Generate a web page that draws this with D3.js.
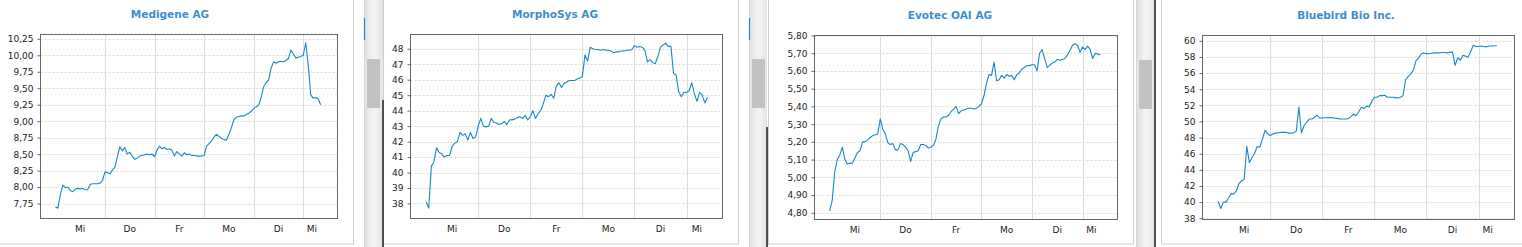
<!DOCTYPE html>
<html>
<head>
<meta charset="utf-8">
<script src="https://cdn.jsdelivr.net/npm/d3@7.9.0/dist/d3.min.js"></script>
<style>
  html, body { margin: 0; padding: 0; background: #fff; overflow: hidden; }
  svg { display: block; }
  .title { font: bold 10.5px "DejaVu Sans", Verdana, sans-serif; fill: #3a8fcf; }
  .axis text, .day-label { font: 9px "DejaVu Sans", Verdana, sans-serif; fill: #222; }
</style>
</head>
<body>
<svg width="1522" height="247"></svg>
<script>
// weekday labels shown under each chart (German)
const dayLabels = ['Mi', 'Do', 'Fr', 'Mo', 'Di', 'Mi'];
const stepsPerDay = 20;

const medigeneValues = [
  7.70, 7.68, 7.88, 8.03, 7.99, 8.00, 7.95, 7.93, 7.97, 7.98,
  7.97, 7.98, 7.96, 7.96, 8.04, 8.05, 8.05, 8.05, 8.06, 8.10,
  8.23, 8.22, 8.20, 8.26, 8.30, 8.46, 8.61, 8.55, 8.60, 8.50,
  8.53, 8.47, 8.42, 8.44, 8.47, 8.48, 8.49, 8.50, 8.49, 8.50,
  8.46, 8.56, 8.62, 8.58, 8.60, 8.57, 8.58, 8.56, 8.47, 8.54,
  8.50, 8.47, 8.52, 8.49, 8.50, 8.48, 8.48, 8.47, 8.47, 8.47,
  8.48, 8.62, 8.66, 8.70, 8.76, 8.80, 8.77, 8.74, 8.72, 8.71,
  8.80, 8.90, 9.02, 9.06, 9.07, 9.08, 9.08, 9.10, 9.12, 9.15,
  9.19, 9.22, 9.24, 9.36, 9.52, 9.59, 9.62, 9.80, 9.90, 9.88,
  9.90, 9.91, 9.90, 9.92, 9.95, 10.08, 10.02, 9.96, 9.97, 9.98,
  10.00, 10.19, 9.85, 9.40, 9.35, 9.36, 9.34, 9.25
];
const morphosysValues = [
  38.1, 37.7, 40.4, 40.7, 41.6, 41.3, 41.2, 41.0, 41.1, 41.1,
  41.7, 41.9, 42.0, 42.6, 42.4, 42.5, 42.1, 42.6, 42.2, 42.3,
  43.0, 43.5, 43.0, 42.95, 43.0, 43.5, 43.25, 43.2, 43.1, 43.15,
  43.3, 43.1, 43.4, 43.4, 43.45, 43.55, 43.6, 43.5, 43.7, 43.4,
  43.6, 44.0, 43.5, 43.8, 44.0, 44.45, 45.0, 44.9, 45.05, 44.8,
  45.6, 45.8, 45.5, 45.75, 45.85, 45.95, 45.95, 45.95, 46.05, 46.1,
  46.2, 47.6, 47.2, 48.1, 48.0, 47.95, 47.95, 47.9, 47.95, 47.9,
  47.9, 47.85, 47.75, 47.8, 47.8, 47.85, 47.85, 47.9, 47.9, 47.95,
  48.2, 48.1, 48.15, 48.1, 47.9, 47.15, 47.3, 47.1, 47.05, 47.5,
  48.1, 48.25, 48.35, 48.15, 48.15, 46.4, 46.3, 45.2, 44.9, 45.2,
  45.15, 45.3, 45.8, 45.1, 44.6, 45.2, 45.0, 44.5, 44.85
];
const evotecValues = [
  4.81, 4.87, 5.03, 5.10, 5.125, 5.17, 5.10, 5.075, 5.08, 5.08,
  5.11, 5.14, 5.15, 5.20, 5.20, 5.21, 5.225, 5.235, 5.24, 5.245,
  5.33, 5.27, 5.245, 5.195, 5.185, 5.19, 5.155, 5.155, 5.19, 5.185,
  5.17, 5.15, 5.09, 5.14, 5.145, 5.15, 5.185, 5.185, 5.18, 5.165,
  5.17, 5.18, 5.215, 5.29, 5.33, 5.34, 5.34, 5.35, 5.37, 5.385,
  5.40, 5.36, 5.375, 5.38, 5.385, 5.39, 5.39, 5.385, 5.39, 5.40,
  5.415, 5.46, 5.53, 5.58, 5.575, 5.65, 5.545, 5.55, 5.575, 5.56,
  5.58, 5.57, 5.575, 5.55, 5.58, 5.59, 5.61, 5.62, 5.63, 5.63,
  5.635, 5.635, 5.60, 5.70, 5.72, 5.67, 5.62, 5.63, 5.645, 5.65,
  5.665, 5.66, 5.665, 5.67, 5.69, 5.715, 5.745, 5.753, 5.745, 5.705,
  5.735, 5.72, 5.74, 5.72, 5.67, 5.70, 5.695, 5.69
];
const bluebirdValues = [
  40.1, 39.2, 40.0, 40.0, 40.5, 41.05, 41.0, 41.4, 42.3, 42.65,
  42.8, 46.9, 44.9, 45.5, 46.05, 46.9, 46.8, 47.8, 48.9, 48.5,
  48.25, 48.45, 48.55, 48.6, 48.65, 48.65, 48.65, 48.55, 48.55, 48.6,
  48.8, 51.8, 48.6, 49.5, 49.9, 50.3, 50.3, 50.5, 50.8, 50.4,
  50.45, 50.45, 50.45, 50.5, 50.45, 50.4, 50.35, 50.3, 50.3, 50.3,
  50.35, 50.6, 50.9, 50.7, 51.2, 51.75, 51.6, 51.9, 51.8, 52.5,
  53.0, 53.0, 53.2, 53.2, 53.25, 53.0, 53.0, 53.0, 52.95, 52.9,
  53.0, 53.2, 55.2, 55.6, 55.9, 56.4, 57.55, 57.9, 58.4, 58.5,
  58.4, 58.4, 58.45, 58.5, 58.5, 58.5, 58.55, 58.55, 58.5, 58.6,
  58.6, 56.95, 57.9, 57.6, 58.2, 58.1, 57.95, 58.7, 59.45, 59.3,
  59.3, 59.35, 59.3, 59.25, 59.35, 59.35, 59.38, 59.38
];

const medigeneTicks = [7.75, 8.00, 8.25, 8.50, 8.75, 9.00, 9.25, 9.50, 9.75, 10.00, 10.25];
const morphosysTicks = [38, 39, 40, 41, 42, 43, 44, 45, 46, 47, 48];
const evotecTicks = [4.80, 4.90, 5.00, 5.10, 5.20, 5.30, 5.40, 5.50, 5.60, 5.70, 5.80];
const bluebirdTicks = [38, 40, 42, 44, 46, 48, 50, 52, 54, 56, 58, 60];

const de = d3.formatLocale({ decimal: ',', thousands: '.', grouping: [3], currency: ['', ' €'] });

const panels = [
  { title: 'Medigene AG', values: medigeneValues, ticks: medigeneTicks, fmt: de.format('.2f'),
    yDomain: [7.523, 10.315], box: [40.5, 337.5, 34.5, 218.5], titleX: 170, titleY: 18 },
  { title: 'MorphoSys AG', values: morphosysValues, ticks: morphosysTicks, fmt: de.format('d'),
    yDomain: [37.03, 48.92], box: [410.5, 722.5, 34.5, 218.5], titleX: 555, titleY: 18 },
  { title: 'Evotec OAI AG', values: evotecValues, ticks: evotecTicks, fmt: de.format('.2f'),
    yDomain: [4.762, 5.80], box: [814.5, 1117.5, 35.5, 219.5], titleX: 950, titleY: 19 },
  { title: 'Bluebird Bio Inc.', values: bluebirdValues, ticks: bluebirdTicks, fmt: de.format('d'),
    yDomain: [37.84, 60.66], box: [1202.5, 1514.5, 35.5, 219.5], titleX: 1346, titleY: 19 }
];

const svg = d3.select('svg');

// window chrome: panel frames, scrollbars between the panels
const defs = svg.append('defs');
const grad = defs.append('linearGradient').attr('id', 'track');
grad.append('stop').attr('offset', '0%').attr('stop-color', '#e2e2e2');
grad.append('stop').attr('offset', '50%').attr('stop-color', '#f4f4f4');
grad.append('stop').attr('offset', '100%').attr('stop-color', '#e4e4e4');

const frames = [[-1.5, 355], [383.5, 355], [768.5, 365], [1161.5, 380]];
frames.forEach(([x, w]) => {
  svg.append('rect').attr('x', x).attr('y', -1.5).attr('width', w).attr('height', 245.5)
    .attr('fill', '#fff').attr('stroke', '#cfcfcf');
});

const bars = [
  { sep: 364.5, x: 365, w: 18, thumbX: 367, thumbW: 13, thumbY: 59, dark: 382, darkY: 100, mark: true },
  { sep: 749.5, x: 750, w: 17, thumbX: 752, thumbW: 13, thumbY: 59, dark: 766, darkY: 127, mark: true },
  { sep: 1136.5, x: 1137, w: 18, thumbX: 1139, thumbW: 13, thumbY: 60, dark: 1154, darkY: 0, mark: false }
];
bars.forEach(b => {
  svg.append('rect').attr('x', b.x).attr('y', 0).attr('width', b.w).attr('height', 247).attr('fill', 'url(#track)');
  svg.append('line').attr('x1', b.sep).attr('x2', b.sep).attr('y1', 0).attr('y2', 247).attr('stroke', '#d6d6d6');
  svg.append('rect').attr('x', b.thumbX).attr('y', b.thumbY).attr('width', b.thumbW).attr('height', 49).attr('fill', '#c2c2c2');
  svg.append('rect').attr('x', b.dark).attr('y', b.darkY).attr('width', 2).attr('height', 247 - b.darkY).attr('fill', '#4f5048');
  if (b.mark) {
    svg.append('line').attr('x1', b.sep).attr('x2', b.sep).attr('y1', 18).attr('y2', 40)
      .attr('stroke', '#1a8ac6').attr('stroke-width', 1.2);
  }
});

panels.forEach(p => {
  const [x0, x1, y0, y1] = p.box;
  const x = d3.scaleLinear().domain([-0.3, 5.69]).range([x0, x1]);
  const y = d3.scaleLinear().domain(p.yDomain).range([y1, y0]);
  const g = svg.append('g');

  // dotted horizontal grid
  g.selectAll('.hgrid').data(p.ticks).join('line')
    .attr('x1', x0).attr('x2', x1)
    .attr('y1', d => Math.round(y(d)) + 0.5).attr('y2', d => Math.round(y(d)) + 0.5)
    .attr('stroke', '#d9d9d9').attr('stroke-dasharray', '2,2');

  // solid day separators
  g.selectAll('.vgrid').data(d3.range(1, dayLabels.length)).join('line')
    .attr('x1', d => Math.round(x(d)) + 0.5).attr('x2', d => Math.round(x(d)) + 0.5)
    .attr('y1', y0).attr('y2', y1)
    .attr('stroke', '#dcdcdc');

  const line = d3.line()
    .x((d, i) => x(i / stepsPerDay))
    .y(d => y(d));
  g.append('path').datum(p.values)
    .attr('d', line)
    .attr('fill', 'none')
    .attr('stroke', '#1789c6')
    .attr('stroke-width', 1.1)
    .attr('stroke-linejoin', 'round');

  g.append('rect').attr('x', x0).attr('y', y0).attr('width', x1 - x0).attr('height', y1 - y0)
    .attr('fill', 'none').attr('stroke', '#666');

  const yAxis = d3.axisLeft(y).tickValues(p.ticks).tickSize(3).tickPadding(4).tickFormat(p.fmt);
  const ax = g.append('g').attr('class', 'axis').attr('transform', `translate(${x0},0)`).call(yAxis);
  ax.select('.domain').remove();
  ax.selectAll('.tick line').attr('stroke', '#666');

  // day labels centred over that day's data
  const lastT = (p.values.length - 1) / stepsPerDay;
  const centers = dayLabels.map((d, i) => i < dayLabels.length - 1 ? i + 0.5 : (i + lastT) / 2);
  g.selectAll('.day-label').data(dayLabels).join('text')
    .attr('class', 'day-label')
    .attr('x', (d, i) => x(centers[i]))
    .attr('y', y1 + 13.5)
    .attr('text-anchor', 'middle')
    .text(d => d);

  g.append('text').attr('class', 'title')
    .attr('x', p.titleX).attr('y', p.titleY)
    .attr('text-anchor', 'middle')
    .text(p.title);
});
</script>
</body>
</html>
